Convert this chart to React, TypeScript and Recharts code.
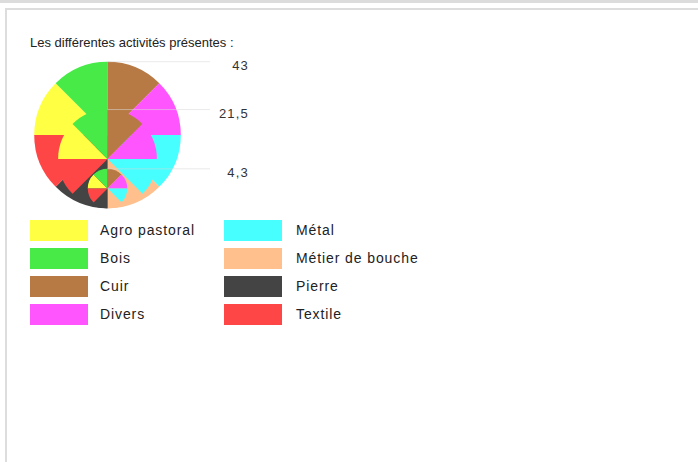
import React from 'react';
import { PieChart, Pie, Cell } from 'recharts';

// categories, in legend order (the pie runs clockwise from 9 o'clock)
const categories = ['Agro pastoral', 'Bois', 'Cuir', 'Divers', 'Métal', 'Métier de bouche', 'Pierre', 'Textile'];
const colors = ['#ffff44', '#47ea47', '#b87a44', '#ff55ff', '#47ffff', '#ffc08e', '#444444', '#ff4646'];
// each activity gets an equal share of every symbol
const shares = [1, 1, 1, 1, 1, 1, 1, 1];
// size legend values (largest first) and their labels
const sizeValues = [43, 21.5, 4.3];
const sizeLabels = ['43', '21,5', '4,3'];

const MAX_R = 73.3;
const CX = 107.5;
const BOTTOM = 208.3;
const radiusOf = (v: number) => MAX_R * Math.pow(v / sizeValues[0], 0.57);

const data = categories.map((name, i) => ({ name, value: shares[i] }));

const legendRows = [0, 1, 2, 3];
const FONT = '"Liberation Sans", Arial, sans-serif';

export default function App() {
  return (
    <div style={{ position: 'absolute', left: 0, top: 0, width: 698, height: 462, background: '#fff', fontFamily: FONT, overflow: 'hidden' }}>
      <div style={{ position: 'absolute', left: 0, top: 0, width: 698, height: 3, background: '#dcdcdc' }} />
      <div style={{ position: 'absolute', left: 5, top: 8, width: 700, height: 460, borderTop: '2px solid #dddddd', borderLeft: '2px solid #dddddd' }} />
      <div style={{ position: 'absolute', left: 30, top: 35, fontSize: 13, lineHeight: '16px', color: '#222' }}>
        Les différentes activités présentes :
      </div>

      <div style={{ position: 'absolute', left: 0, top: 0 }}>
        <PieChart width={300} height={215} margin={{ top: 0, right: 0, bottom: 0, left: 0 }}>
          {sizeValues.map((v, k) => {
            const r = radiusOf(v);
            return (
              <Pie
                key={'p' + k}
                data={data}
                dataKey="value"
                cx={CX}
                cy={BOTTOM - r}
                outerRadius={r}
                innerRadius={0}
                startAngle={180}
                endAngle={-180}
                stroke="none"
                isAnimationActive={false}
              >
                {data.map((d, i) => (
                  <Cell key={d.name} fill={colors[i]} />
                ))}
              </Pie>
            );
          })}
        </PieChart>
      </div>

      <svg width={300} height={215} style={{ position: 'absolute', left: 0, top: 0 }}>
        {sizeValues.map((v, k) => {
          const y = BOTTOM - 2 * radiusOf(v);
          return (
            <g key={'l' + k}>
              <line x1={CX} x2={210} y1={y} y2={y} stroke="#d8d8d8" strokeOpacity={0.55} strokeWidth={1} />
              <text x={249} y={y + 8} textAnchor="end" fontSize={13} letterSpacing={1.2} fill="#333" fontFamily={FONT}>
                {sizeLabels[k]}
              </text>
            </g>
          );
        })}
      </svg>

      {[0, 1].map((col) =>
        legendRows.map((row) => {
          const i = col * 4 + row;
          const left = col === 0 ? 30 : 224;
          const top = 220 + row * 28;
          return (
            <div key={categories[i]}>
              <div style={{ position: 'absolute', left, top, width: 58, height: 21, background: colors[i] }} />
              <div style={{ position: 'absolute', left: left + (col === 0 ? 70 : 72), top, fontSize: 14, letterSpacing: 0.9, lineHeight: '21px', color: '#222' }}>
                {categories[i]}
              </div>
            </div>
          );
        })
      )}
    </div>
  );
}
